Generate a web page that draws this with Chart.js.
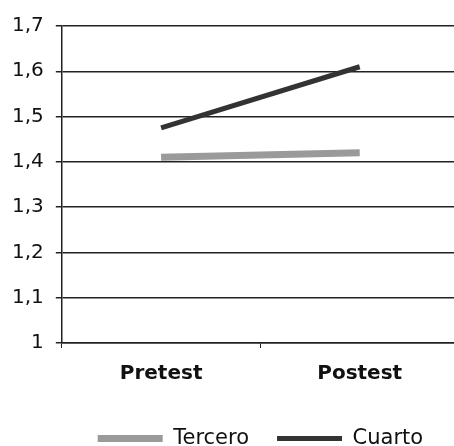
<!DOCTYPE html>
<html>
<head>
<meta charset="utf-8">
<script src="https://cdn.jsdelivr.net/npm/chart.js@4/dist/chart.umd.min.js"></script>
<style>
  html, body { margin: 0; padding: 0; background: #fff; overflow: hidden; }
  #wrap { width: 459px; height: 459px; }
</style>
</head>
<body>
<div id="wrap"><canvas id="myChart"></canvas></div>
<script>
// categories and series
const moments = ['Pretest', 'Postest'];
const tercero = [1.41, 1.42];
const cuarto = [1.475, 1.61];
const seriesNames = ['Tercero', 'Cuarto'];

// y axis range
const yMin = 1;
const yMax = 1.7;
const yStep = 0.1;

const ctx = document.getElementById('myChart');

new Chart(ctx, {
  type: 'line',
  data: {
    labels: moments,
    datasets: [
      {
        label: seriesNames[0],
        data: tercero,
        borderColor: '#9a9a9a',
        borderWidth: 7,
        pointRadius: 0,
        fill: false
      },
      {
        label: seriesNames[1],
        data: cuarto,
        borderColor: '#333333',
        borderWidth: 5,
        pointRadius: 0,
        fill: false
      }
    ]
  },
  options: {
    responsive: true,
    maintainAspectRatio: false,
    animation: false,
    layout: { padding: { top: 26, left: 0, right: 0, bottom: 0 } },
    scales: {
      x: {
        offset: true,
        grid: {
          offset: true,
          drawOnChartArea: false,
          color: '#222',
          tickLength: 5
        },
        border: { color: '#222', width: 1.5 },
        ticks: {
          color: '#111',
          padding: 14,
          font: { family: 'DejaVu Sans', size: 20, weight: 'bold' }
        }
      },
      y: {
        min: yMin,
        max: yMax,
        grid: { color: '#222', lineWidth: 1.5, tickLength: 6 },
        border: { color: '#222', width: 1.5 },
        ticks: {
          stepSize: yStep,
          color: '#111',
          padding: 12,
          font: { family: 'DejaVu Sans', size: 20 },
          callback: function (v) {
            return (Math.round(v * 10) / 10).toString().replace('.', ',');
          }
        }
      }
    },
    plugins: {
      tooltip: { enabled: false },
      legend: {
        position: 'bottom',
        fullSize: false,
        labels: {
          color: '#111',
          usePointStyle: true,
          pointStyleWidth: 65,
          padding: 28,
          font: { family: 'DejaVu Sans', size: 21 },
          generateLabels: function (chart) {
            return chart.data.datasets.map(function (ds, i) {
              return {
                text: ds.label,
                pointStyle: 'line',
                strokeStyle: ds.borderColor,
                fillStyle: ds.borderColor,
                lineWidth: ds.borderWidth,
                fontColor: '#111',
                datasetIndex: i
              };
            });
          }
        }
      }
    }
  }
});
</script>
</body>
</html>
